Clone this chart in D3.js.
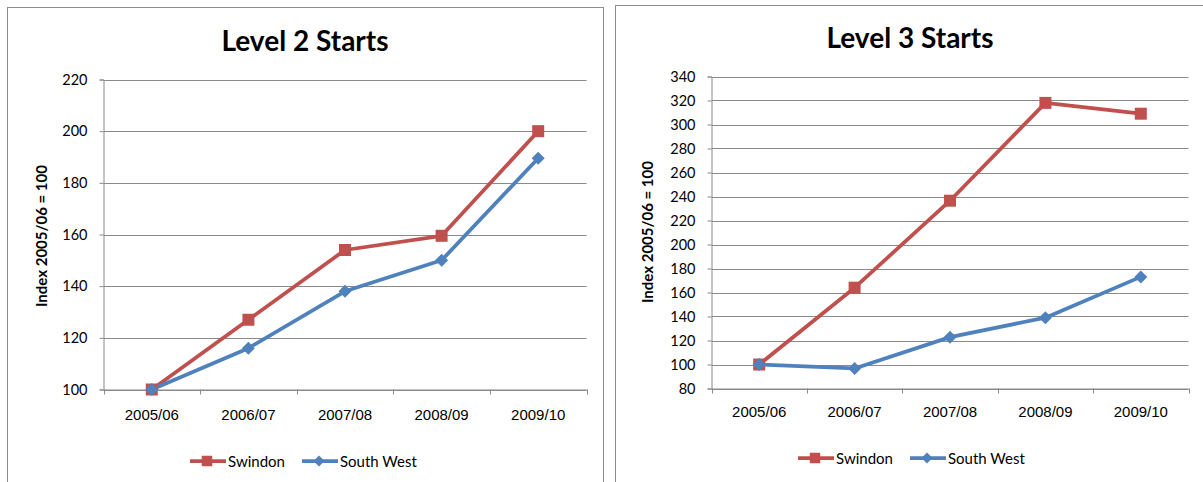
<!DOCTYPE html>
<html>
<head>
<meta charset="utf-8">
<script src="https://cdn.jsdelivr.net/npm/d3@7"></script>
<style>
  html, body { margin: 0; padding: 0; background: #fff; }
  svg { display: block; font-family: Lato, "Open Sans", "DejaVu Sans", sans-serif; }
</style>
</head>
<body>
<svg id="chart" width="1203" height="482"></svg>
<script>
// ---- data ----
const categories = ["2005/06", "2006/07", "2007/08", "2008/09", "2009/10"];
const seriesNames = ["Swindon", "South West"];
const level2Swindon = [100, 127, 154, 159.5, 200];
const level2SouthWest = [100, 116, 138, 150, 189.5];
const level3Swindon = [100, 164, 236.5, 318, 309];
const level3SouthWest = [100, 96.7, 122.8, 139, 173];
const level2Ticks = [100, 120, 140, 160, 180, 200, 220];
const level3Ticks = [80, 100, 120, 140, 160, 180, 200, 220, 240, 260, 280, 300, 320, 340];
const titles = ["Level 2 Starts", "Level 3 Starts"];
const yAxisTitle = "Index 2005/06 = 100";

const colors = { "Swindon": "#C0504D", "South West": "#4F81BD" };
const gridColor = "#8a8a8a";

// Excel-like markers: square and 45° rotated square
const squareSym = { draw(ctx, size) { const s = Math.sqrt(size) / 2; ctx.moveTo(-s, -s); ctx.lineTo(s, -s); ctx.lineTo(s, s); ctx.lineTo(-s, s); ctx.closePath(); } };
const diamondSym = { draw(ctx, size) { const s = Math.sqrt(size) / 2; ctx.moveTo(0, -s); ctx.lineTo(s, 0); ctx.lineTo(0, s); ctx.lineTo(-s, 0); ctx.closePath(); } };

const svg = d3.select("#chart");

const charts = [
  {
    title: titles[0], ticks: level2Ticks, domain: [100, 220],
    series: [level2Swindon, level2SouthWest],
    panel: { x: 7.5, y: 7.5, w: 596, h: 500 },
    plot: { x0: 103.5, x1: 586.5, yTop: 79.5, yBot: 389.5 },
    titleX: 305, titleY: 51, yLabX: 47, yLabY: 236, xLabY: 420, legY: 461, legX: 190
  },
  {
    title: titles[1], ticks: level3Ticks, domain: [80, 340],
    series: [level3Swindon, level3SouthWest],
    panel: { x: 615.5, y: 5.5, w: 620, h: 500 },
    plot: { x0: 711.5, x1: 1188.5, yTop: 76.5, yBot: 388.5 },
    titleX: 910, titleY: 48, yLabX: 653, yLabY: 232, xLabY: 417, legY: 458, legX: 798
  }
];

charts.forEach(c => {
  const g = svg.append("g");
  g.append("rect")
    .attr("x", c.panel.x).attr("y", c.panel.y)
    .attr("width", c.panel.w).attr("height", c.panel.h)
    .attr("fill", "#fff").attr("stroke", "#8c8c8c").attr("stroke-width", 1);

  const x = d3.scaleBand().domain(categories).range([c.plot.x0, c.plot.x1]);
  const y = d3.scaleLinear().domain(c.domain).range([c.plot.yBot, c.plot.yTop]);

  // gridlines
  g.append("g").selectAll("line").data(c.ticks).join("line")
    .attr("x1", c.plot.x0).attr("x2", c.plot.x1)
    .attr("y1", d => Math.round(y(d)) + 0.5).attr("y2", d => Math.round(y(d)) + 0.5)
    .attr("stroke", gridColor).attr("stroke-width", 1);

  // y axis
  const yAxis = d3.axisLeft(y).tickValues(c.ticks).tickSize(4).tickPadding(12).tickFormat(d3.format("d"));
  const ya = g.append("g").attr("transform", `translate(${c.plot.x0},0)`).call(yAxis);
  ya.select(".domain").attr("stroke", gridColor);
  ya.selectAll(".tick line").attr("stroke", gridColor);
  ya.selectAll(".tick text").attr("font-size", 14.5).attr("fill", "#000")
    .attr("font-family", "Lato, sans-serif");

  // x axis
  const xAxis = d3.axisBottom(x).tickSize(0).tickPadding(0);
  const xa = g.append("g").attr("transform", `translate(0,${c.plot.yBot})`).call(xAxis);
  xa.select(".domain").attr("stroke", gridColor);
  xa.selectAll(".tick text").attr("font-size", 15).attr("fill", "#000")
    .attr("y", c.xLabY - c.plot.yBot).attr("dy", 0);
  // boundary tick marks
  const bounds = categories.map(d => x(d)).concat([c.plot.x1]);
  g.append("g").selectAll("line").data(bounds).join("line")
    .attr("x1", d => Math.round(d) + 0.5).attr("x2", d => Math.round(d) + 0.5)
    .attr("y1", c.plot.yBot).attr("y2", c.plot.yBot + 5)
    .attr("stroke", gridColor);

  // title
  g.append("text").attr("x", c.titleX).attr("y", c.titleY)
    .attr("text-anchor", "middle").attr("font-weight", "bold").attr("font-size", 28)
    .attr("fill", "#000").text(c.title);

  // y axis title
  g.append("text")
    .attr("transform", `translate(${c.yLabX},${c.yLabY}) rotate(-90)`)
    .attr("text-anchor", "middle").attr("font-weight", "bold").attr("font-size", 15)
    .attr("fill", "#000").text(yAxisTitle);

  // series lines
  const line = d3.line().x((d, i) => x(categories[i]) + x.bandwidth() / 2).y(d => y(d));
  c.series.forEach((vals, si) => {
    const name = seriesNames[si];
    g.append("path").datum(vals).attr("d", line)
      .attr("fill", "none").attr("stroke", colors[name]).attr("stroke-width", 3.75)
      .attr("stroke-linejoin", "round");
  });
  c.series.forEach((vals, si) => {
    const name = seriesNames[si];
    const sym = si === 0 ? squareSym : diamondSym;
    const size = si === 0 ? 144 : 169;
    g.append("g").selectAll("path").data(vals).join("path")
      .attr("transform", (d, i) => `translate(${x(categories[i]) + x.bandwidth() / 2},${y(d)})`)
      .attr("d", d3.symbol().type(sym).size(size))
      .attr("fill", colors[name]);
  });

  // legend
  const leg = g.append("g").attr("transform", `translate(${c.legX},${c.legY})`);
  const offsets = [0, 112];
  seriesNames.forEach((name, si) => {
    const lg = leg.append("g").attr("transform", `translate(${offsets[si]},0)`);
    lg.append("line").attr("x1", 0).attr("x2", 36).attr("y1", 0).attr("y2", 0)
      .attr("stroke", colors[name]).attr("stroke-width", 3.75);
    lg.append("path").attr("transform", "translate(17,0)")
      .attr("d", d3.symbol().type(si === 0 ? squareSym : diamondSym).size(si === 0 ? 110 : 121))
      .attr("fill", colors[name]);
    lg.append("text").attr("x", 38).attr("y", 5.5).attr("font-size", 15).attr("fill", "#000").text(name);
  });
});
</script>
</body>
</html>
